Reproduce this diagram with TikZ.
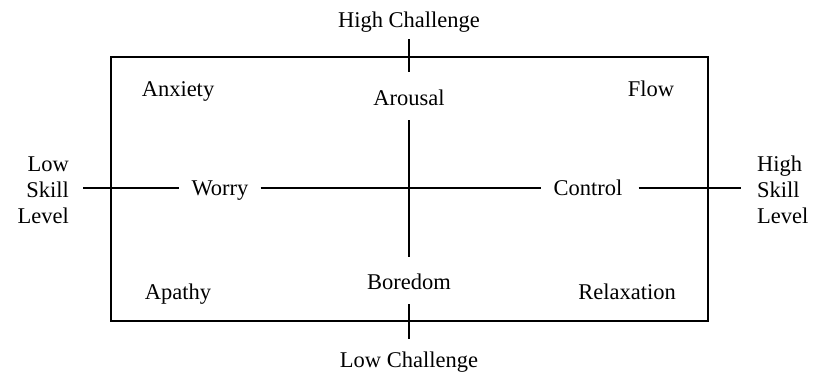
\documentclass[tikz,border=0pt]{standalone}
\usepackage{fontspec}
\setmainfont{Liberation Serif}
\begin{document}
\begin{tikzpicture}[x=1pt,y=-1pt,
  lbl/.style={font=\fontsize{22.5}{26}\selectfont, inner sep=0pt, anchor=base},
  side/.style={font=\fontsize{22.5}{26}\selectfont, inner sep=0pt},
  ln/.style={line width=1.1pt}]
\useasboundingbox (0,0) rectangle (825,375);
% frame
\draw[ln] (111,57) rectangle (708,321);
% labels
\node[lbl] (hc) at (409,27) {High Challenge};
\node[lbl] (lc) at (409,367) {Low Challenge};
\node[lbl] (anx) at (178,96) {Anxiety};
\node[lbl] (aro) at (409,105) {Arousal};
\node[lbl] (flow) at (651,96) {Flow};
\node[lbl] (apa) at (178,299) {Apathy};
\node[lbl] (bor) at (409,289) {Boredom};
\node[lbl] (rel) at (627,299) {Relaxation};
\node[lbl] (wor) at (220,195) {Worry};
\node[lbl] (con) at (588,195) {Control};
\node[side, align=right, anchor=east] (lsl) at (69,190) {Low\\Skill\\Level};
\node[side, align=left, anchor=west] (hsl) at (757,190) {High\\Skill\\Level};
% coordinates for free ends
\coordinate (tt) at (409,39);
\coordinate (tb) at (409,72);
\coordinate (bt) at (409,304);
\coordinate (bb) at (409,339);
\coordinate (vt) at (409,120);
\coordinate (vb) at (409,257);
\coordinate (hl) at (83,188);
\coordinate (hr) at (741,188);
% connectors
\draw[ln] (tt) -- (tb);
\draw[ln] (bt) -- (bb);
\draw[ln] (vt) -- (vb);
\draw[ln] (hl) -- ([xshift=-12pt]wor.west |- hl);
\draw[ln] ([xshift=12pt]wor.east |- hl) -- ([xshift=-12pt]con.west |- hl);
\draw[ln] ([xshift=16pt]con.east |- hl) -- (hr);
\end{tikzpicture}
\end{document}
